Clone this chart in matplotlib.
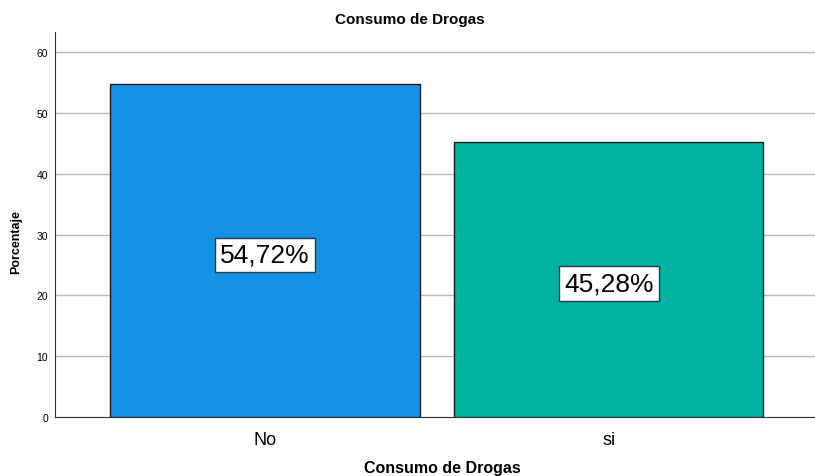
import matplotlib
matplotlib.use('Agg')
import matplotlib.pyplot as plt

categories = ['No', 'si']
percentages = [54.72, 45.28]
labels = ['54,72%', '45,28%']
colors = ['#1591E6', '#00B3A0']
y_ticks = [0, 10, 20, 30, 40, 50, 60]

plt.rcParams['font.family'] = ['Liberation Sans', 'DejaVu Sans']

fig = plt.figure(figsize=(8.15, 4.77), dpi=100)
ax = fig.add_axes([55 / 815, 59 / 477, 760 / 815, 385 / 477])

x = list(range(len(categories)))
ax.bar(x, percentages, width=0.9, color=colors, edgecolor='#1a1a1a', linewidth=1.0, zorder=3)

for xi, val, lab in zip(x, percentages, labels):
    ax.text(xi, val / 2 - 0.7, lab, ha='center', va='center', fontsize=19, zorder=4,
            bbox=dict(boxstyle='square,pad=0.2', facecolor='white', edgecolor='#2a3a4a', linewidth=1.0))

ax.set_xlim(-0.61, 1.6)
ax.set_ylim(0, 63.3)
ax.set_yticks(y_ticks)
ax.set_xticks(x)
ax.set_xticklabels(categories, fontsize=13)
ax.tick_params(axis='y', length=0, labelsize=7.5, pad=5)
ax.tick_params(axis='x', length=0, pad=10)

for t in y_ticks[1:]:
    ax.axhline(t, color='#b8b8b8', linewidth=1.0, zorder=1)

for s in ['top', 'right']:
    ax.spines[s].set_visible(False)
ax.spines['left'].set_color('#333333')
ax.spines['bottom'].set_color('#333333')

fig.text(16 / 815, 1 - 242 / 477, 'Porcentaje', ha='center', va='center', rotation=90,
         fontsize=9, fontweight='bold')
fig.text(410 / 815, 1 - 20 / 477, 'Consumo de Drogas', ha='center', va='center',
         fontsize=11, fontweight='bold')
fig.text(442 / 815, 1 - 469 / 477, 'Consumo de Drogas', ha='center', va='center',
         fontsize=11.5, fontweight='bold')

fig.savefig('out.png', dpi=100)
